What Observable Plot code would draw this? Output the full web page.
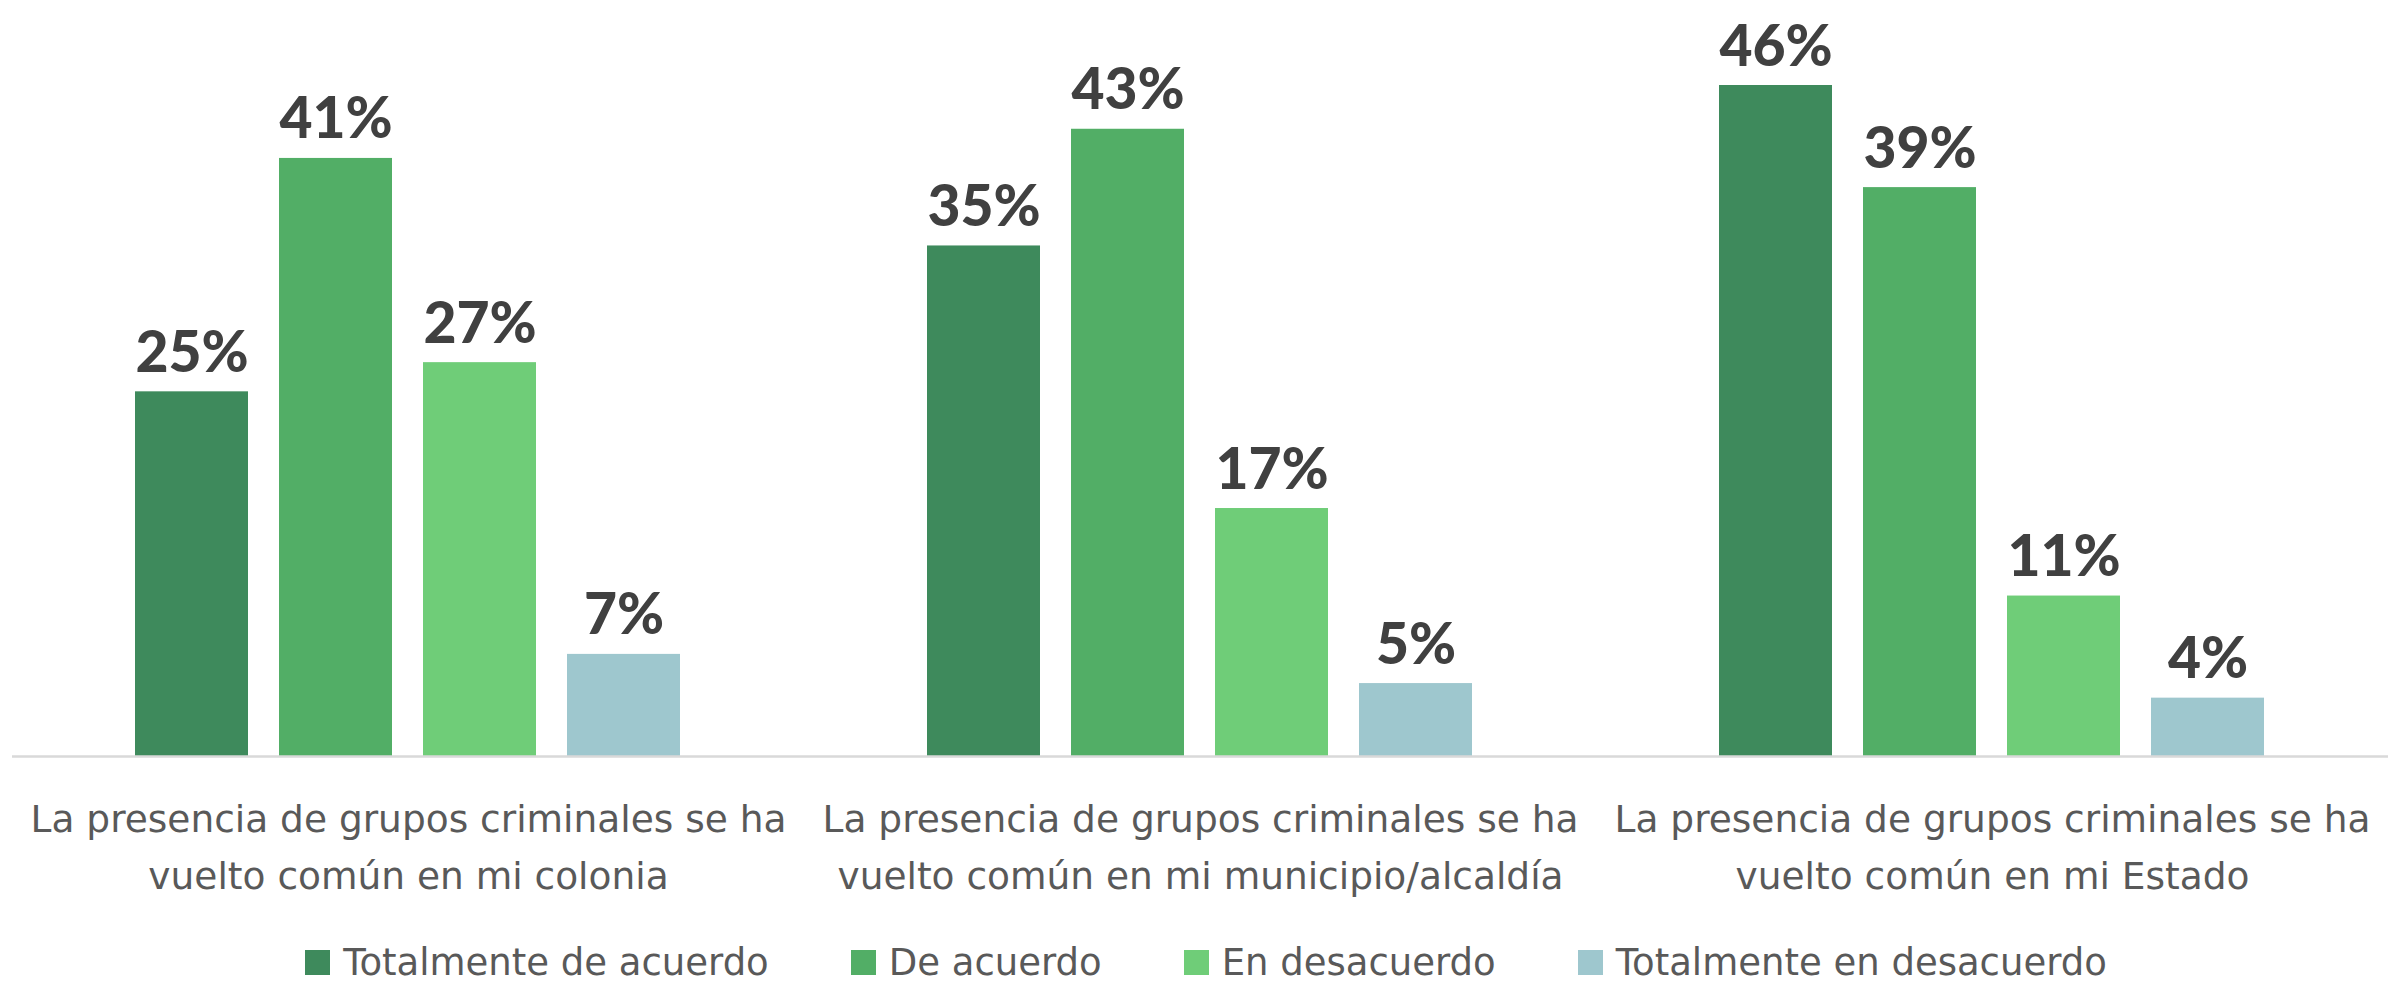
<!DOCTYPE html>
<html>
<head>
<meta charset="utf-8">
<script src="https://cdn.jsdelivr.net/npm/d3@7"></script>
<script src="https://cdn.jsdelivr.net/npm/@observablehq/plot@0.6"></script>
<style>
  html, body { margin: 0; padding: 0; background: #fff; overflow: hidden; }
  #legend { display: flex; justify-content: center; align-items: center; height: 44px; gap: 82px;
    font-family: "DejaVu Sans", sans-serif; font-size: 37px; color: #595959; padding-left: 18px; }
  #legend .item { display: flex; align-items: center; gap: 13px; white-space: nowrap; }
  #legend .sw { width: 25px; height: 25px; display: inline-block; }
</style>
</head>
<body>
<div id="chart"></div>
<div id="legend"></div>
<script>
const categories = ["colonia", "municipio", "estado"];
const categoryLabels = [
  "La presencia de grupos criminales se ha\nvuelto común en mi colonia",
  "La presencia de grupos criminales se ha\nvuelto común en mi municipio/alcaldía",
  "La presencia de grupos criminales se ha\nvuelto común en mi Estado"
];
const responses = ["Totalmente de acuerdo", "De acuerdo", "En desacuerdo", "Totalmente en desacuerdo"];
const colors = ["#3E8A5C", "#52AE66", "#6FCD78", "#9EC7CE"];
const totalmenteDeAcuerdo = [25, 35, 46];
const deAcuerdo = [41, 43, 39];
const enDesacuerdo = [27, 17, 11];
const totalmenteEnDesacuerdo = [7, 5, 4];

const series = [totalmenteDeAcuerdo, deAcuerdo, enDesacuerdo, totalmenteEnDesacuerdo];
const data = [];
categories.forEach((c, i) => {
  responses.forEach((r, j) => data.push({cat: c, resp: r, value: series[j][i]}));
});
const labelData = categories.map((c, i) => ({cat: c, label: categoryLabels[i]}));

const chart = Plot.plot({
  width: 2394,
  height: 940,
  marginLeft: 12,
  marginRight: 6,
  marginTop: 85,
  marginBottom: 184,
  style: {background: "#fff"},
  fx: {domain: categories, padding: 0, axis: null},
  x: {domain: responses, paddingInner: 0.215, paddingOuter: 0.857, axis: null},
  y: {domain: [0, 46], axis: null},
  color: {domain: responses, range: colors},
  marks: [
    Plot.barY(data, {fx: "cat", x: "resp", y: "value", fill: "resp"}),
    Plot.ruleY([0], {stroke: "#d9d9d9", strokeWidth: 2.5}),
    Plot.text(data, {fx: "cat", x: "resp", y: "value", text: d => d.value + "%", dy: -20,
      lineAnchor: "bottom", fill: "#404040", fontSize: 57, fontWeight: 900,
      fontFamily: "Lato, 'Open Sans', sans-serif"}),
    Plot.text(labelData, {fx: "cat", text: "label", frameAnchor: "bottom", dy: 86,
      lineAnchor: "middle", lineHeight: 1.52, fill: "#595959", fontSize: 37.5,
      fontFamily: "'DejaVu Sans', sans-serif"})
  ]
});
chart.style.overflow = "visible";
document.getElementById("chart").appendChild(chart);

const legend = d3.select("#legend");
responses.forEach((r, i) => {
  const it = legend.append("div").attr("class", "item");
  it.append("span").attr("class", "sw").style("background", colors[i]);
  it.append("span").text(r);
});
</script>
</body>
</html>
